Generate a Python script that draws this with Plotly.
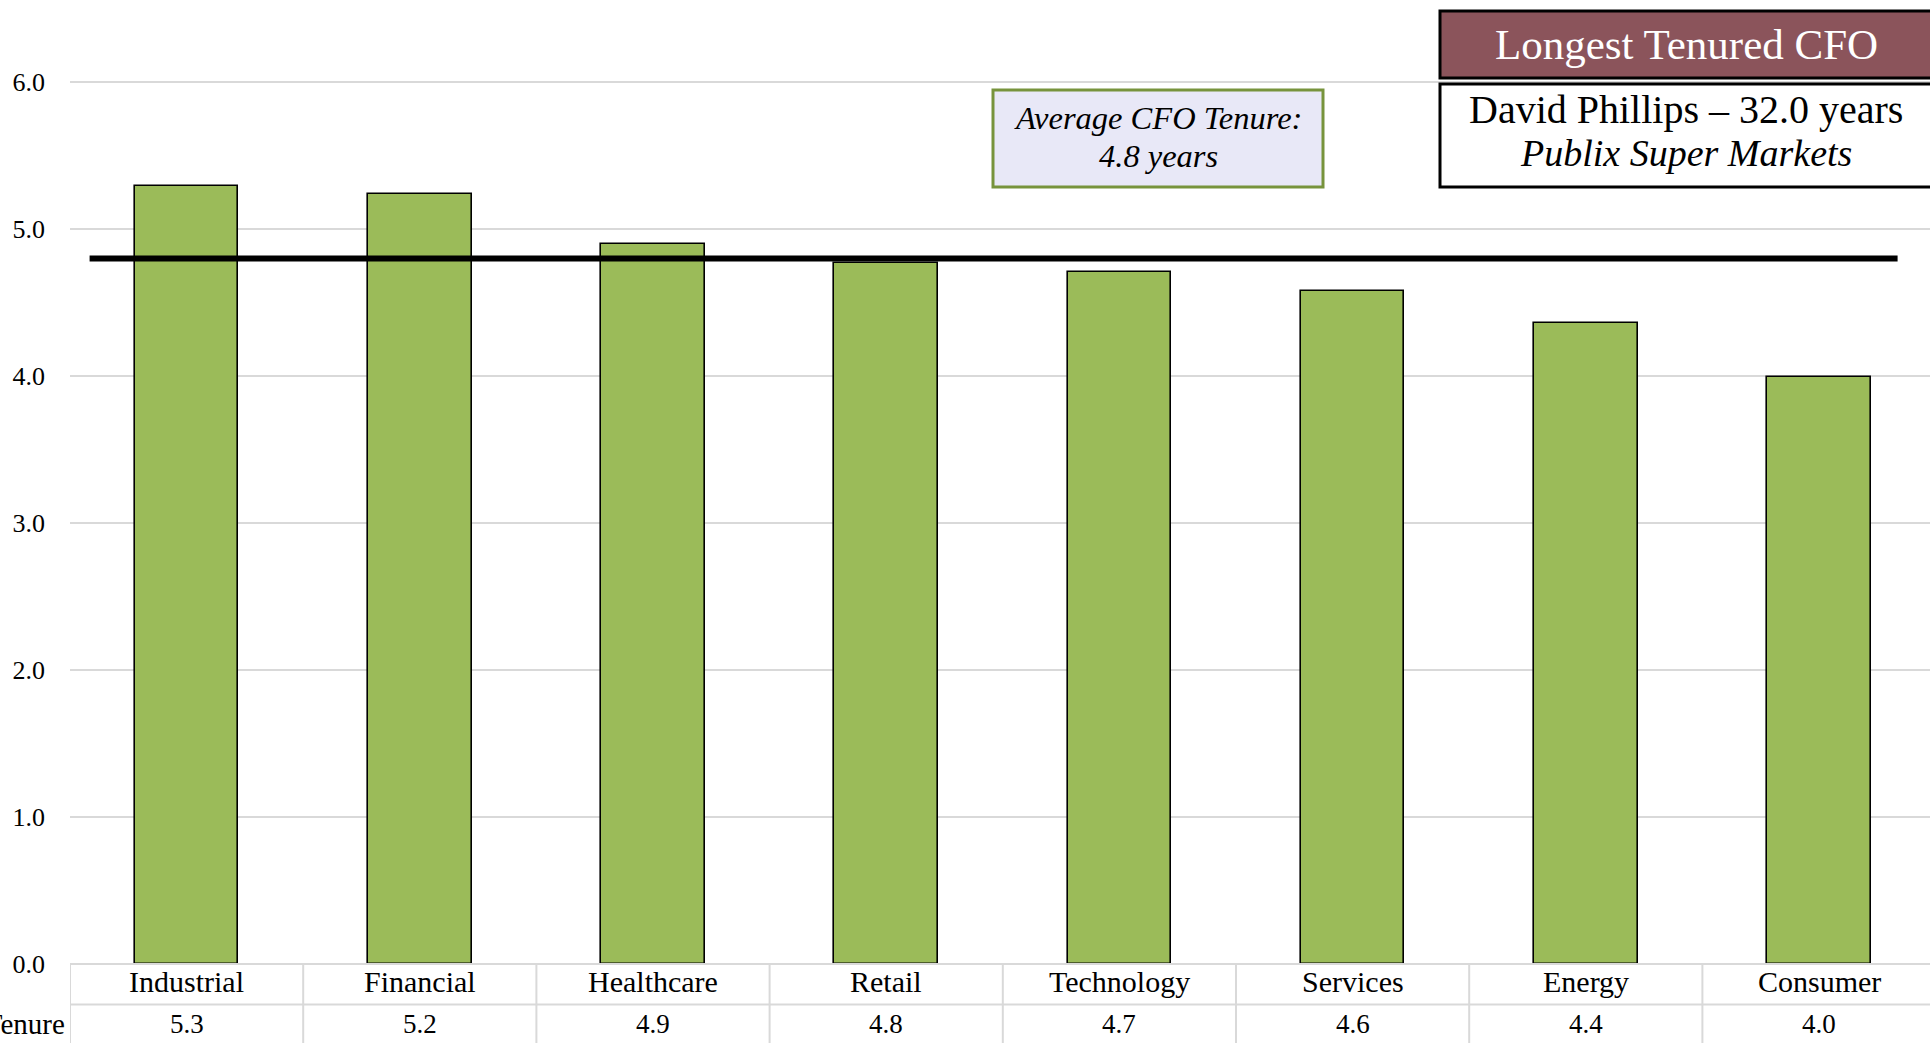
import plotly.graph_objects as go

categories = ["Industrial", "Financial", "Healthcare", "Retail", "Technology", "Services", "Energy", "Consumer"]
tenure = [5.29, 5.24, 4.90, 4.77, 4.71, 4.58, 4.36, 3.99]
average_tenure = 4.8
y_ticks = [0, 1, 2, 3, 4, 5, 6]
y_tick_labels = ["0.0", "1.0", "2.0", "3.0", "4.0", "5.0", "6.0"]
row_label = "Average Tenure"
avg_box_lines = ["Average CFO Tenure:", "4.8 years"]
longest_title = "Longest Tenured CFO"
longest_name = "David Phillips \u2013 32.0 years"
longest_company = "Publix Super Markets"

W, H = 1930, 1043
ML = 70
PH = 964
MB = H - PH
PW = W - ML
FONT = "Liberation Serif"


def px(x):
    return (x - ML) / PW


def py(y):
    return (PH - y) / PH


fig = go.Figure()
fig.add_trace(go.Bar(
    x=categories, y=tenure, width=0.445,
    marker=dict(color="#9BBB59", line=dict(color="black", width=1.6)),
    showlegend=False,
))

shapes = []
annotations = []

# average line
shapes.append(dict(type="line", xref="x", yref="y", x0=-0.416, x1=7.337,
                   y0=average_tenure, y1=average_tenure,
                   line=dict(color="black", width=6), layer="above"))

# data table
grid = "#D9D9D9"
yb = py(H + 20)
shapes.append(dict(type="line", xref="paper", yref="paper", x0=0, x1=1.05, y0=0, y1=0,
                   line=dict(color=grid, width=2)))
shapes.append(dict(type="line", xref="paper", yref="paper", x0=0, x1=1.05, y0=py(1004.5), y1=py(1004.5),
                   line=dict(color=grid, width=2)))
for i in range(len(categories) + 1):
    shapes.append(dict(type="line", xref="x", yref="paper", x0=i - 0.5, x1=i - 0.5, y0=0, y1=yb,
                       line=dict(color=grid, width=2)))
for i, (c, v) in enumerate(zip(categories, tenure)):
    annotations.append(dict(x=c, xref="x", y=py(982), yref="paper", text=c, showarrow=False,
                            xanchor="center", yanchor="middle",
                            font=dict(family=FONT, size=30, color="black")))
    annotations.append(dict(x=c, xref="x", y=py(1024), yref="paper", text=f"{v:.1f}", showarrow=False,
                            xanchor="center", yanchor="middle",
                            font=dict(family=FONT, size=27, color="black")))
annotations.append(dict(x=px(67), xref="paper", y=py(1024), yref="paper", text=row_label,
                        showarrow=False, xanchor="right", yanchor="middle",
                        font=dict(family=FONT, size=29, color="black")))

# average box
shapes.append(dict(type="rect", xref="paper", yref="paper", x0=px(993), x1=px(1323), y0=py(187), y1=py(90),
                   fillcolor="#E8E8F7", line=dict(color="#77933C", width=3), layer="above"))
annotations.append(dict(x=px(1158), xref="paper", y=py(118), yref="paper", text=f"<i>{avg_box_lines[0]}</i>",
                        showarrow=False, xanchor="center", yanchor="middle",
                        font=dict(family=FONT, size=32.5, color="black")))
annotations.append(dict(x=px(1158), xref="paper", y=py(156), yref="paper", text=f"<i>{avg_box_lines[1]}</i>",
                        showarrow=False, xanchor="center", yanchor="middle",
                        font=dict(family=FONT, size=32.5, color="black")))

# longest tenured box
shapes.append(dict(type="rect", xref="paper", yref="paper", x0=px(1440), x1=px(1945), y0=py(78), y1=py(11),
                   fillcolor="#8B545B", line=dict(color="black", width=3), layer="above"))
shapes.append(dict(type="rect", xref="paper", yref="paper", x0=px(1440), x1=px(1945), y0=py(187), y1=py(84),
                   fillcolor="white", line=dict(color="black", width=3), layer="above"))
annotations.append(dict(x=px(1686), xref="paper", y=py(45), yref="paper", text=longest_title,
                        showarrow=False, xanchor="center", yanchor="middle",
                        font=dict(family=FONT, size=43, color="white")))
annotations.append(dict(x=px(1686), xref="paper", y=py(109), yref="paper", text=longest_name,
                        showarrow=False, xanchor="center", yanchor="middle",
                        font=dict(family=FONT, size=40, color="black")))
annotations.append(dict(x=px(1686), xref="paper", y=py(153), yref="paper", text=f"<i>{longest_company}</i>",
                        showarrow=False, xanchor="center", yanchor="middle",
                        font=dict(family=FONT, size=38, color="black")))

fig.update_layout(
    width=W, height=H,
    margin=dict(l=ML, r=0, t=0, b=MB, pad=0),
    paper_bgcolor="white", plot_bgcolor="white",
    showlegend=False,
    shapes=shapes, annotations=annotations,
    xaxis=dict(type="category", range=[-0.5, -0.5 + PW / 233.2], showticklabels=False,
               showgrid=False, zeroline=False, showline=False, ticks=""),
    yaxis=dict(range=[0, PH / 147.0], tickvals=y_ticks, ticktext=y_tick_labels,
               showgrid=True, gridcolor=grid, gridwidth=2, zeroline=False, showline=False,
               ticks="", ticklabelstandoff=24,
               tickfont=dict(family=FONT, size=26, color="black")),
    bargap=0,
)

fig.write_html("out.html",
               config={"displayModeBar": False},
               post_script="document.body.style.margin='0px';document.body.style.overflow='hidden';")
